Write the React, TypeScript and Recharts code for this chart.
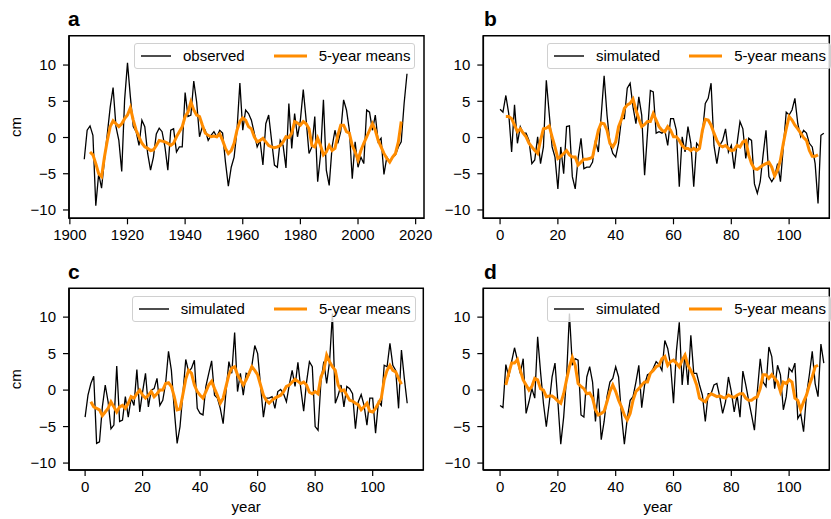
import React from 'react';
import { LineChart, Line, XAxis, YAxis, ReferenceArea, Legend, Label } from 'recharts';

const FONT = '"Liberation Sans", Arial, Helvetica, sans-serif';
const BLACK = '#000000';
const ORANGE = '#ff8c00';

const firstYear = 1905;
const yearTicks = [1900, 1920, 1940, 1960, 1980, 2000, 2020];
const indexTicks = [0, 20, 40, 60, 80, 100];
const yTicks = [-10, -5, 0, 5, 10];
const meanLabel = '5-year means';

// panel a: observed (1905-2017)
const observedA = [
  -3.0, 1.0, 1.6, 0.3, -9.4, -5.0, -7.0, -3.1, 0.5, 4.2,
  6.9, 1.5, -0.4, -4.7, 5.2, 10.3, 5.6, 1.5, 0.8, -1.1,
  2.4, 1.5, -2.2, -4.5, -2.7, 0.5, 1.3, 0.8, -1.3, -4.5,
  1.0, 1.2, -2.0, -1.3, -1.3, 6.2, 2.9, 3.1, 7.8, 4.9,
  0.1, 1.5, 1.0, -0.4, 0.3, 0.8, 0.1, 1.0, 0.6, -3.4,
  -6.7, -4.1, -2.7, 1.0, 7.5, 1.0, 3.8, 3.3, 2.4, 0.6,
  -1.3, -0.4, -3.8, 1.9, 3.1, -0.4, -3.8, -4.1, -0.4, -1.1,
  -4.2, 4.7, -1.5, 3.3, 0.1, 2.4, 6.6, 2.4, -2.2, -1.3,
  2.9, -6.1, -2.4, 5.2, -4.5, -6.6, -1.3, 1.0, -0.8, 0.8,
  5.2, 3.8, 1.0, -5.7, -0.6, -4.1, -2.7, -3.6, 3.8, 3.5,
  1.0, 3.1, -0.6, -0.1, -5.1, -2.7, -3.4, -2.7, -2.4, -1.3,
  -0.6, 4.7, 8.8,
];
// 5-year means, centred, from the 3rd to the 3rd-last point
const meanA = [
  -2.0, -2.4, -3.6, -5.0, -5.4, -2.7, -0.4, 1.5, 2.3, 1.9,
  1.5, 1.9, 2.6, 3.1, 4.1, 2.4, 1.0, 0.1, -0.8, -1.3,
  -1.5, -1.8, -1.7, -1.1, -0.4, -0.5, -0.6, -0.8, -1.1, -0.8,
  0.1, 0.8, 1.5, 2.9, 3.5, 4.9, 3.8, 3.1, 2.9, 1.7,
  0.6, 0.3, 0.1, 0.2, 0.1, 0.5, -0.4, -1.5, -2.2, -1.8,
  -0.8, 1.0, 2.2, 2.7, 2.4, 1.5, 1.2, 0.1, -0.6, -0.4,
  -0.1, -0.6, -1.1, -1.3, -1.4, -1.3, -1.1, -0.6, 0.1, 0.0,
  0.6, 2.2, 2.0, 1.7, 2.2, 1.9, 1.2, -1.1, -1.3, -0.1,
  -1.1, -2.4, -2.0, -1.1, -1.8, -1.5, 0.3, 1.7, 1.7, 0.8,
  0.6, -1.1, -2.0, -3.1, -1.8, -0.8, 0.1, 1.0, 1.9, 1.0,
  -0.4, -1.3, -2.2, -2.9, -3.4, -2.7, -2.2, -0.6, 2.2,
];

// panel b
const simB = [
  3.9, 3.5, 5.8, 3.3, -2.0, 4.5, -0.8, 1.5, 0.6, 0.6,
  -0.4, -3.6, -3.1, 0.1, -3.6, -1.3, 7.9, 3.3, -1.3, -2.7,
  -7.1, -1.3, -5.0, 1.5, 1.6, -5.4, -7.1, -2.9, -0.1, -4.3,
  -4.1, -4.1, -3.4, -0.4, -2.0, 3.1, 8.5, 3.1, -0.8, -2.2,
  -2.7, -0.8, 2.6, 2.6, 6.8, 7.5, 4.2, 1.9, 5.6, 3.1,
  -5.2, 0.6, 6.5, 6.3, 0.6, 0.8, 0.6, 1.0, -1.1, 2.6,
  2.6, 1.0, -6.8, 0.1, -2.0, 1.5, -0.8, -6.8, -0.8, -1.3,
  0.6, 4.7, 5.4, 7.5, -1.1, -3.6, -1.1, -0.4, 1.2, -2.0,
  -1.1, -4.3, -0.8, 2.2, 1.2, -2.9, -0.1, -0.4, -6.4, -7.7,
  -6.1, -2.4, 1.0, -5.4, -6.1, -5.4, -3.6, -6.1, -1.3, 3.5,
  3.1, 3.8, 5.4, 1.9, 0.1, 1.0, 0.6, -0.8, -1.3, -3.6,
  -9.1, 0.3, 0.6,
];
const meanB = [
  2.9, 2.9, 2.6, 1.7, 0.8, 1.2, 0.6, 0.1, -0.8, -1.3,
  -1.8, -2.2, -0.4, 1.2, 1.3, 1.6, 0.1, -1.3, -2.9, -2.6,
  -2.2, -1.8, -2.4, -2.7, -2.7, -3.8, -3.4, -3.0, -3.0, -2.9,
  -2.7, -0.8, 1.0, 2.0, 1.9, 1.0, -0.8, -1.3, -0.6, 1.5,
  2.5, 4.0, 4.5, 4.7, 5.3, 3.8, 2.6, 1.5, 1.8, 2.2,
  2.2, 3.3, 2.4, 1.5, 1.0, 0.8, 1.5, 1.0, 0.1, 0.1,
  -0.4, -1.1, -1.5, -1.5, -1.8, -1.5, -1.8, -1.5, 1.0, 2.5,
  2.4, 1.7, 0.6, -0.4, -1.1, -1.3, -1.1, -1.5, -1.8, -1.7,
  -1.1, -1.3, -0.6, -0.4, -2.4, -3.6, -4.3, -4.4, -4.1, -3.8,
  -3.6, -3.4, -4.1, -5.3, -4.5, -3.1, -0.8, 1.2, 2.9, 2.4,
  1.7, 1.2, 0.6, 0.0, -0.4, -1.8, -2.6, -2.6, -2.4,
];

// panel c
const simC = [
  -3.7, -0.7, 0.9, 1.9, -7.3, -7.1, -2.3, 0.7, -1.6, -5.3,
  -4.8, 3.3, -4.3, -4.1, -0.9, -3.7, -1.1, -2.1, 2.8, -3.0,
  -0.2, 2.3, -2.3, 0.0, 0.2, 1.6, -2.1, -1.4, 0.9, 5.3,
  2.7, -2.7, -7.3, -5.0, -0.5, 4.2, 2.5, 3.0, 4.1, -2.5,
  -3.2, -3.4, 0.5, 2.3, 4.0, -0.7, -1.1, -2.5, -4.6, -0.2,
  3.9, 2.3, 7.9, -0.2, 2.3, -0.7, 2.3, 2.1, 3.4, 6.1,
  5.0, 0.7, -3.7, -1.1, -1.1, -0.9, -2.5, -0.2, 0.1, -0.5,
  -1.6, 0.7, 2.7, 0.5, 3.8, 0.2, -2.9, 1.1, 3.9, 3.2,
  -5.0, -5.5, 1.1, 3.9, 0.9, 3.9, 10.5, -1.8, -0.7, 0.7,
  -2.3, 0.5, 0.2, -0.5, -5.3, -1.6, -0.6, -2.1, -4.8, -1.1,
  -1.1, -5.9, -1.6, -2.1, 3.4, 3.2, 6.4, 3.4, 2.7, -2.5,
  5.5, 1.6, -1.8,
];
const meanC = [
  -1.6, -2.3, -2.5, -2.7, -3.5, -3.0, -2.5, -1.6, -2.3, -3.0,
  -2.3, -2.1, -2.5, -1.8, -0.9, -1.1, -0.5, 0.0, -0.7, -1.1,
  -0.7, -0.2, -0.9, -0.5, 0.0, 0.0, 0.9, 1.0, 0.5, -0.9,
  -2.7, -2.6, -0.6, 1.5, 2.7, 2.3, 0.7, -0.2, -0.7, -1.1,
  -0.2, 0.7, 1.2, 0.2, -0.7, -1.8, -1.1, 0.5, 2.1, 3.0,
  3.2, 2.1, 1.4, 0.7, 1.4, 2.3, 3.2, 2.7, 2.1, 0.7,
  -0.7, -1.4, -1.8, -1.4, -1.1, -0.9, -0.7, -0.2, 0.5, 0.7,
  1.1, 1.5, 1.2, 0.9, 1.1, 0.7, -0.3, -0.5, -0.2, -0.5,
  1.8, 2.7, 4.8, 3.9, 3.2, 2.7, 0.7, -0.1, 0.0, -0.7,
  -1.4, -1.5, -1.8, -2.0, -2.7, -2.3, -1.8, -2.9, -3.0, -2.5,
  -1.8, -1.1, 1.4, 2.7, 3.4, 2.7, 2.5, 1.6, 0.8,
];

// panel d
const simD = [
  -2.1, -2.4, 3.5, 1.8, 3.9, 5.8, 4.1, 2.3, 4.3, -3.2,
  -1.6, 0.2, -1.1, 7.3, 2.5, -1.8, -5.0, -1.8, 1.8, 3.7,
  -1.6, -7.4, -3.7, 1.8, 10.5, 3.4, 4.3, 4.1, -3.4, -3.7,
  1.8, 3.2, 1.1, -4.3, 0.2, -6.8, -4.3, -0.9, 1.1, 1.6,
  3.2, 1.8, -3.4, -7.4, -3.9, -1.4, -0.9, 1.1, 3.4, -2.4,
  0.7, 2.1, 2.3, 3.0, 3.9, 3.5, 2.7, 6.8, 5.7, 3.4,
  -1.8, 5.3, 9.3, 0.7, 5.0, 0.7, 7.5, 2.3, 2.3, 0.7,
  -0.7, -4.3, -0.5, -0.5, 0.7, 0.9, -0.9, -3.2, -1.6, 1.8,
  -0.2, -3.0, -0.7, -3.7, 2.6, 0.7, -1.4, -3.4, -5.5, -0.2,
  4.3, 1.1, 0.5, 5.9, 4.6, 0.2, 3.4, 2.1, -2.7, -0.9,
  3.0, 2.5, 3.7, -3.9, -3.2, -5.7, -0.7, 2.1, 5.3, 0.9,
  -0.9, 6.3, 3.7,
];
const meanD = [
  0.7, 2.3, 3.7, 3.7, 4.2, 2.7, 1.4, 0.7, 0.0, 0.5,
  1.6, 1.4, 0.2, 0.0, -0.9, -0.8, -0.8, -1.1, -1.5, -1.8,
  -0.5, 1.4, 3.2, 4.5, 3.4, 0.9, 0.5, 0.2, -0.5, -0.4,
  -1.1, -2.7, -3.4, -3.2, -2.9, -1.6, -0.2, 0.7, -0.2, -1.4,
  -2.3, -3.4, -4.1, -3.2, -1.4, -0.2, 0.2, 0.7, 1.1, 1.1,
  2.3, 2.7, 3.2, 3.4, 4.3, 4.6, 3.4, 3.9, 4.1, 3.7,
  3.2, 4.1, 4.8, 3.4, 2.7, 1.8, 0.7, -1.1, -1.4, -1.6,
  -0.9, -0.5, -0.7, -0.9, -0.8, -1.0, -1.1, -0.7, -0.9, -1.0,
  -0.7, -0.5, -0.5, -1.1, -1.4, -1.4, -1.1, -0.9, 0.2, 2.1,
  2.1, 1.6, 2.1, 1.6, 1.1, -0.2, 1.1, 0.9, 1.4, 1.1,
  -1.1, -1.4, -2.7, -1.6, -0.7, 0.7, 1.8, 3.2, 3.4,
];

const MEAN_OFFSET = 2;

type Row = { x: number; v: number; m: number | null };

function buildRows(xStart: number, black: number[], mean: number[]): Row[] {
  return black.map((v, i) => {
    const j = i - MEAN_OFFSET;
    return { x: xStart + i, v, m: j >= 0 && j < mean.length ? mean[j] : null };
  });
}

const fmt = (v: number) => (v < 0 ? `\u2212${Math.abs(v)}` : `${v}`);
const tickStyle = { fill: '#000', fontSize: 15, fontFamily: FONT };

function LegendBox({ name }: { name: string }) {
  return (
    <div
      style={{
        display: 'flex',
        alignItems: 'center',
        height: 26,
        boxSizing: 'border-box',
        border: '1px solid #d0d0d0',
        borderRadius: 3,
        background: 'rgba(255,255,255,0.8)',
        padding: '0 4px 0 6px',
        fontSize: 15,
        fontFamily: FONT,
        color: '#000',
        whiteSpace: 'nowrap',
        lineHeight: '15px',
      }}
    >
      <svg width={30} height={6} style={{ display: 'block' }}>
        <line x1={0} y1={3} x2={30} y2={3} stroke={BLACK} strokeWidth={1.4} />
      </svg>
      <span style={{ marginLeft: 12 }}>{name}</span>
      <svg width={33} height={6} style={{ display: 'block', marginLeft: 29 }}>
        <line x1={1.5} y1={3} x2={31.5} y2={3} stroke={ORANGE} strokeWidth={3} strokeLinecap="square" />
      </svg>
      <span style={{ marginLeft: 12 }}>{meanLabel}</span>
    </div>
  );
}

type PanelProps = {
  letter: string;
  left: number;
  top: number;
  width: number;
  height: number;
  mTop: number;
  mRight: number;
  yw: number;
  xh: number;
  rows: Row[];
  xDomain: [number, number];
  xTicks: number[];
  yDomain: [number, number];
  name: string;
  legendLeft: number;
  legendTop: number;
  showY: boolean;
  xLabelX?: number;
};

function Panel(p: PanelProps) {
  return (
    <div style={{ position: 'absolute', left: p.left, top: p.top, width: p.width, height: p.height }}>
      <LineChart
        width={p.width}
        height={p.height}
        data={p.rows}
        margin={{ top: p.mTop, right: p.mRight, left: 0, bottom: 0 }}
      >
        <XAxis
          dataKey="x"
          type="number"
          domain={p.xDomain}
          ticks={p.xTicks}
          interval={0}
          allowDataOverflow
          height={p.xh}
          tickSize={6}
          tickMargin={5}
          tick={tickStyle}
          tickLine={{ stroke: '#000', strokeWidth: 1.2 }}
          axisLine={{ stroke: '#000', strokeWidth: 1.5 }}
        >
          {p.xLabelX !== undefined && (
            <Label
              content={(lp: any) => {
                const vb = lp.viewBox || { y: 0 };
                return (
                  <text x={p.xLabelX} y={vb.y + 42} textAnchor="middle" fontSize={15} fontFamily={FONT} fill="#000">
                    year
                  </text>
                );
              }}
            />
          )}
        </XAxis>
        <YAxis
          type="number"
          domain={p.yDomain}
          ticks={yTicks}
          interval={0}
          allowDataOverflow
          width={p.yw}
          tickSize={6}
          tickMargin={7}
          tick={tickStyle}
          tickFormatter={fmt}
          tickLine={{ stroke: '#000', strokeWidth: 1.2 }}
          axisLine={{ stroke: '#000', strokeWidth: 1.5 }}
        >
          {p.showY && (
            <Label
              content={(lp: any) => {
                const vb = lp.viewBox || { y: 0, height: 0 };
                const cy = vb.y + vb.height / 2;
                return (
                  <text
                    x={21}
                    y={cy}
                    transform={`rotate(-90 21 ${cy})`}
                    textAnchor="middle"
                    fontSize={15}
                    fontFamily={FONT}
                    fill="#000"
                  >
                    cm
                  </text>
                );
              }}
            />
          )}
        </YAxis>
        <Line type="linear" dataKey="v" stroke={BLACK} strokeWidth={1.3} dot={false} activeDot={false} isAnimationActive={false} />
        <Line type="linear" dataKey="m" stroke={ORANGE} strokeWidth={3} dot={false} activeDot={false} isAnimationActive={false} />
        <ReferenceArea
          x1={p.xDomain[0]}
          x2={p.xDomain[1]}
          y1={p.yDomain[0]}
          y2={p.yDomain[1]}
          fill="none"
          fillOpacity={0}
          stroke="#000"
          strokeWidth={1.5}
          ifOverflow="visible"
        />
        <Legend
          layout="horizontal"
          verticalAlign="middle"
          align="center"
          wrapperStyle={{ left: p.legendLeft, top: p.legendTop, width: 'auto', right: 'auto', bottom: 'auto' }}
          content={() => <LegendBox name={p.name} />}
        />
      </LineChart>
    </div>
  );
}

const rowsA = buildRows(firstYear, observedA, meanA);
const rowsB = buildRows(0, simB, meanB);
const rowsC = buildRows(0, simC, meanC);
const rowsD = buildRows(0, simD, meanD);

const yTop: [number, number] = [-11.15, 14.05];
const yBottom: [number, number] = [-10.95, 13.95];

export default function App() {
  return (
    <div
      style={{
        position: 'absolute',
        left: 0,
        top: 0,
        width: 831,
        height: 519,
        background: '#fff',
        overflow: 'hidden',
        fontFamily: FONT,
      }}
    >
      <Panel
        letter="a" left={0} top={0} width={440} height={250}
        mTop={35.7} mRight={16} yw={69} xh={31.7}
        rows={rowsA} xDomain={[1899.7, 2022.9]} xTicks={yearTicks} yDomain={yTop}
        name="observed" legendLeft={134} legendTop={42.7} showY
      />
      <Panel
        letter="b" left={440} top={0} width={391} height={250}
        mTop={35.7} mRight={1.7} yw={43.3} xh={31.7}
        rows={rowsB} xDomain={[-5.8, 113.9]} xTicks={indexTicks} yDomain={yTop}
        name="simulated" legendLeft={107} legendTop={42.7} showY={false}
      />
      <Panel
        letter="c" left={0} top={260} width={440} height={259}
        mTop={28.3} mRight={16.7} yw={69} xh={49}
        rows={rowsC} xDomain={[-5.6, 117.6]} xTicks={indexTicks} yDomain={yBottom}
        name="simulated" legendLeft={131.7} legendTop={35.7} showY xLabelX={246.2}
      />
      <Panel
        letter="d" left={440} top={260} width={391} height={259}
        mTop={28.3} mRight={1.7} yw={43.3} xh={49}
        rows={rowsD} xDomain={[-5.8, 113.9]} xTicks={indexTicks} yDomain={yBottom}
        name="simulated" legendLeft={107} legendTop={35.7} showY={false} xLabelX={218}
      />
      <svg width={831} height={519} style={{ position: 'absolute', left: 0, top: 0, pointerEvents: 'none' }}>
        <text x={68} y={26} fontSize={21} fontWeight="bold" fontFamily={FONT} fill="#000">a</text>
        <text x={484} y={26} fontSize={21} fontWeight="bold" fontFamily={FONT} fill="#000">b</text>
        <text x={68} y={279} fontSize={21} fontWeight="bold" fontFamily={FONT} fill="#000">c</text>
        <text x={484} y={279} fontSize={21} fontWeight="bold" fontFamily={FONT} fill="#000">d</text>
      </svg>
    </div>
  );
}
